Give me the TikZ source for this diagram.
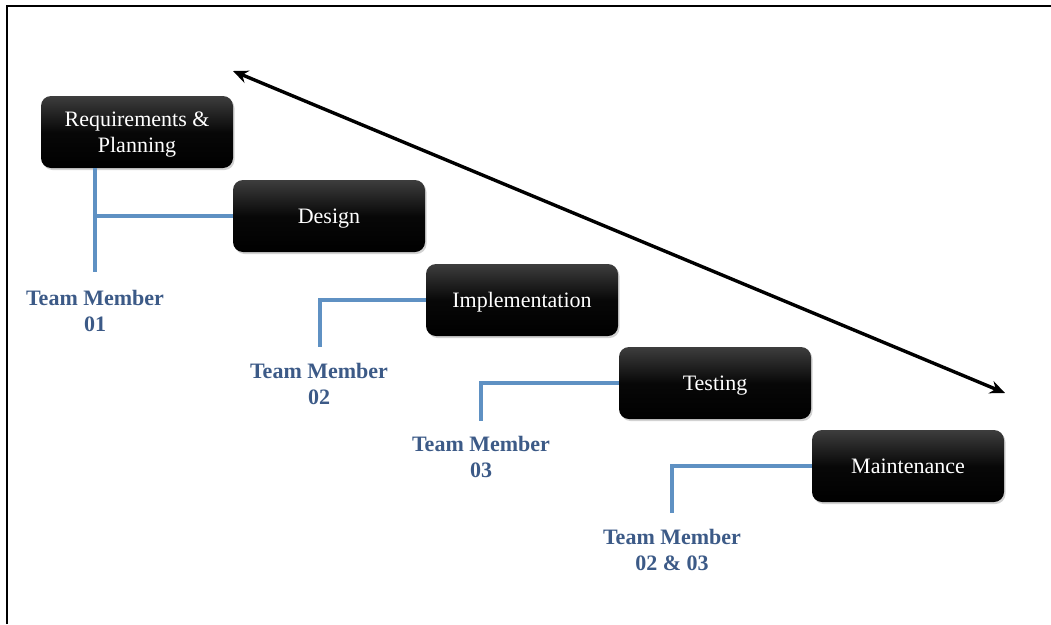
\documentclass[tikz,border=0pt]{standalone}
\usepackage{fontspec}
\setmainfont{Liberation Serif}
\usetikzlibrary{shadows,arrows.meta}
\definecolor{linkblue}{RGB}{95,145,195}
\definecolor{teamblue}{RGB}{60,90,135}
\tikzset{
  phase/.style={rectangle, rounded corners=10pt, minimum width=192pt, minimum height=72pt,
    top color=black!76, bottom color=black, middle color=black!97, draw=none,
    drop shadow={shadow xshift=1.5pt, shadow yshift=-2pt, opacity=0.35},
    text=white, align=center, inner sep=0pt, text depth=0pt,
    font=\fontsize{22}{26}\selectfont},
  team/.style={align=center, text=teamblue, inner sep=0pt,
    font=\fontsize{22}{26}\selectfont\bfseries},
  link/.style={draw=linkblue, line width=3.2pt},
  frame/.style={draw=black, line width=2.2pt}
}
\begin{document}
\begin{tikzpicture}[x=1pt,y=-1pt]
\useasboundingbox (0,0) rectangle (1051,624);
\fill[white] (0,0) rectangle (1051,624);
\coordinate (f0) at (7,624);
\coordinate (f1) at (7,6);
\coordinate (f2) at (1051,6);
\draw[frame] (f0) -- (f1) -- (f2);

\node[phase] (req) at (137,132) {Requirements \&\\Planning};
\node[phase] (des) at (329,216) {Design};
\node[phase] (imp) at (522,300) {Implementation};
\node[phase] (tst) at (715,383) {Testing};
\node[phase] (mnt) at (908,466) {Maintenance};

\node[team] (t1) at (95,311) {Team Member\\01};
\node[team] (t2) at (319,384) {Team Member\\02};
\node[team] (t3) at (481,457) {Team Member\\03};
\node[team] (t4) at (672,550) {Team Member\\02 \& 03};

\coordinate (e1) at (95,272);
\coordinate (e2) at (320,347);
\coordinate (e3) at (481,421);
\coordinate (e4) at (672,513);

\draw[link] (req.south -| e1) -- (e1);
\draw[link] (e1 |- des.west) -- (des.west);
\draw[link] (imp.west) -| (e2);
\draw[link] (tst.west) -| (e3);
\draw[link] (mnt.west) -| (e4);

\coordinate (a1) at (233,71);
\coordinate (a2) at (1005,393);
\draw[line width=3.4pt, {Stealth[length=15pt,width=13pt]}-{Stealth[length=15pt,width=13pt]}] (a1) -- (a2);
\end{tikzpicture}
\end{document}
